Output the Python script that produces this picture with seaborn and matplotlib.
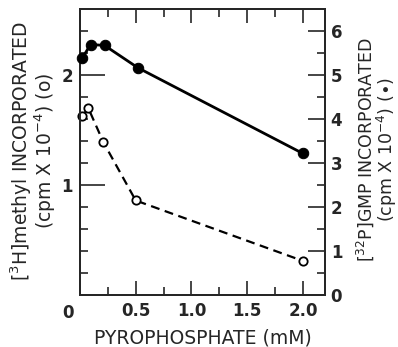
import matplotlib
matplotlib.use('Agg')
import matplotlib.pyplot as plt
import seaborn as sns
import numpy as np
import pandas as pd
from matplotlib.ticker import MultipleLocator, FixedLocator

# -- 
# Data

pyro_open = [0.02, 0.075, 0.21, 0.5, 2.0]          # mM, [3H]methyl series
methyl = [1.63, 1.70, 1.39, 0.86, 0.31]             # cpm x 10^-4 (left axis)

pyro_filled = [0.02, 0.095, 0.22, 0.52, 2.0]       # mM, [32P]GMP series
gmp = [5.39, 5.70, 5.68, 5.17, 3.22]                # cpm x 10^-4 (right axis)

xticks = [0.5, 1.0, 1.5, 2.0]
xticklabels = ['0.5', '1.0', '1.5', '2.0']

df_open = pd.DataFrame({'x': pyro_open, 'y': methyl})
df_filled = pd.DataFrame({'x': pyro_filled, 'y': gmp})

# -- 
# Plot

sns.set_style('ticks')
plt.rcParams['font.family'] = ['DejaVu Sans']

fig = plt.figure(figsize=(3.98, 3.47), dpi=100)
ax = fig.add_axes([0.201, 0.150, 0.616, 0.823])
ax2 = ax.twinx()

sns.lineplot(data=df_open, x='x', y='y', ax=ax, sort=False, color='black',
             linewidth=1.6, linestyle=(0, (4, 2.5)), marker='o', markersize=6,
             markerfacecolor='white', markeredgecolor='black', markeredgewidth=1.3,
             clip_on=False, zorder=5)
sns.lineplot(data=df_filled, x='x', y='y', ax=ax2, sort=False, color='black',
             linewidth=2.0, marker='o', markersize=7.5,
             markerfacecolor='black', markeredgecolor='black', clip_on=False, zorder=5)

ax.set_xlim(0, 2.2)
ax.set_ylim(0, 2.6)
ax2.set_ylim(0, 6.5)

tick_font = dict(fontweight='bold', fontsize=12)
ax.set_xticks(xticks)
ax.set_xticklabels(xticklabels, **tick_font)
ax.xaxis.set_minor_locator(FixedLocator([0.25, 0.75, 1.25, 1.75]))
ax.set_yticks([1, 2])
ax.set_yticklabels(['1', '2'], **tick_font)
ax.yaxis.set_minor_locator(MultipleLocator(0.2))
ax2.set_yticks([0, 1, 2, 3, 4, 5, 6])
ax2.set_yticklabels(['0', '1', '2', '3', '4', '5', '6'], **tick_font)
ax2.yaxis.set_minor_locator(MultipleLocator(0.5))

ax.tick_params(axis='x', which='both', direction='in', top=True, pad=5)
ax.tick_params(axis='x', which='major', length=10, width=1.2)
ax.tick_params(axis='x', which='minor', length=6, width=1.2)
ax.tick_params(axis='y', which='major', direction='in', length=18, width=1.2, pad=5)
ax.tick_params(axis='y', which='minor', direction='in', length=6, width=1.2)
ax2.tick_params(axis='y', which='major', direction='in', length=12, width=1.2, pad=4)
ax2.tick_params(axis='y', which='minor', direction='in', length=6, width=1.2)

for a in (ax, ax2):
    for s in a.spines.values():
        s.set_linewidth(1.4)

# shared origin label
ax.text(-0.05, -0.03, '0', transform=ax.transAxes, ha='center', va='top', **tick_font)

ax.set_xlabel('PYROPHOSPHATE (mM)', fontsize=13.5, va='center')
ax.xaxis.set_label_coords(0.5, -0.15)
ax.set_ylabel('[$^3$H]methyl INCORPORATED\n(cpm X 10$^{-4}$) (o)', fontsize=13.5,
              linespacing=0.95, va='center', ha='center')
ax.yaxis.set_label_coords(-0.19, 0.505)
ax2.set_ylabel('[$^{32}$P]GMP INCORPORATED\n(cpm X 10$^{-4}$) ($\\bullet$)', fontsize=12.5,
               linespacing=0.95, va='center', ha='center', rotation=90)
ax2.yaxis.set_label_coords(1.21, 0.51)

fig.savefig('out.png', dpi=100)
